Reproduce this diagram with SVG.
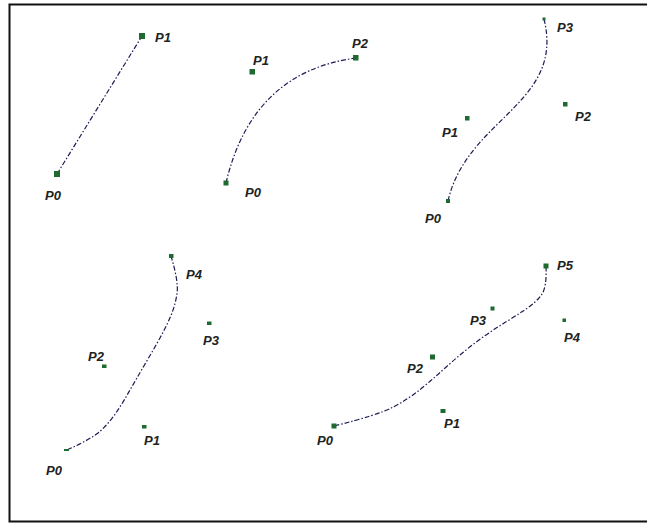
<svg xmlns="http://www.w3.org/2000/svg" width="647" height="524" viewBox="0 0 647 524">
<style>
.pt{fill:#1f6a30}
.lb{font-family:"Liberation Sans",Arial,sans-serif;font-size:13px;font-weight:bold;font-style:italic;fill:#222}
.cv{fill:none;stroke:#1c1c55;stroke-width:1.2;stroke-dasharray:5 2 1.5 2}
</style>
<rect width="647" height="524" fill="#fff"/>
<path d="M647,4.5 H9.5 V521.5 H647" fill="none" stroke="#111" stroke-width="2"/>
<g id="connectors">
<path class="cv" d="M57,174 L142,36"/>
<path class="cv" d="M226,183 Q252,72 356,58"/>
<path class="cv" d="M448,201 C467,118 565,104 544,19"/>
<path class="cv" d="M67,450 Q91.8,438.7 99.9,431.4 Q108,424.1 114.05,415.6 Q120.1,407.1 125.5,397.8 Q130.9,388.5 136.5,378.7 Q142.1,368.9 148.15,358.65 Q154.2,348.4 160.1,337.8 Q166,327.2 170.7,316.1 Q175.4,305 177.05,293.25 Q178.7,281.5 171,256"/>
<path class="cv" d="M334,426 Q378.3,415 393.3,407 Q408.3,399 419.9,389.65 Q431.5,380.3 441.95,370.8 Q452.4,361.3 463,352.5 Q473.6,343.7 484.65,335.95 Q495.7,328.2 506.5,321.6 Q517.3,315 526.55,308.7 Q535.8,302.4 541.4,295 Q547,287.6 546,266"/>
</g>
<g id="d1-p0"><rect class="pt" x="54" y="171" width="6" height="6"/><text class="lb" x="45" y="200">P0</text></g>
<g id="d1-p1"><rect class="pt" x="139" y="33" width="6" height="6"/><text class="lb" x="155" y="42">P1</text></g>
<g id="d2-p0"><rect class="pt" x="223.5" y="180.5" width="5" height="5"/><text class="lb" x="245" y="197">P0</text></g>
<g id="d2-p1"><rect class="pt" x="249.5" y="69" width="5.5" height="5.5"/><text class="lb" x="253" y="65">P1</text></g>
<g id="d2-p2"><rect class="pt" x="353" y="55" width="5.5" height="5.5"/><text class="lb" x="352" y="48">P2</text></g>
<g id="d3-p0"><rect class="pt" x="446" y="199" width="4" height="4"/><text class="lb" x="425" y="223">P0</text></g>
<g id="d3-p1"><rect class="pt" x="465" y="116" width="4.5" height="4.5"/><text class="lb" x="442" y="137">P1</text></g>
<g id="d3-p2"><rect class="pt" x="563" y="102" width="4.5" height="4.5"/><text class="lb" x="575" y="121">P2</text></g>
<g id="d3-p3"><rect class="pt" x="542.5" y="17.5" width="3" height="3"/><text class="lb" x="557" y="32">P3</text></g>
<g id="d4-p0"><rect class="pt" x="64" y="449" width="5" height="2"/><text class="lb" x="46" y="475">P0</text></g>
<g id="d4-p1"><rect class="pt" x="142" y="425" width="4.5" height="3.5"/><text class="lb" x="144" y="445">P1</text></g>
<g id="d4-p2"><rect class="pt" x="102" y="364.5" width="4.5" height="3.5"/><text class="lb" x="88" y="361">P2</text></g>
<g id="d4-p3"><rect class="pt" x="207" y="321.5" width="4.5" height="3.5"/><text class="lb" x="203" y="345">P3</text></g>
<g id="d4-p4"><rect class="pt" x="169" y="254" width="4.5" height="4"/><text class="lb" x="186" y="279">P4</text></g>
<g id="d5-p0"><rect class="pt" x="331.5" y="423.5" width="5" height="5"/><text class="lb" x="317" y="445">P0</text></g>
<g id="d5-p1"><rect class="pt" x="440.5" y="409" width="5" height="4"/><text class="lb" x="444" y="428">P1</text></g>
<g id="d5-p2"><rect class="pt" x="430" y="354.5" width="5" height="5"/><text class="lb" x="407" y="373">P2</text></g>
<g id="d5-p3"><rect class="pt" x="490.5" y="306.5" width="4" height="4"/><text class="lb" x="470" y="325">P3</text></g>
<g id="d5-p4"><rect class="pt" x="562.5" y="318.5" width="3.5" height="3.5"/><text class="lb" x="564" y="342">P4</text></g>
<g id="d5-p5"><rect class="pt" x="543.5" y="263.5" width="5" height="5"/><text class="lb" x="557" y="270">P5</text></g>
</svg>
